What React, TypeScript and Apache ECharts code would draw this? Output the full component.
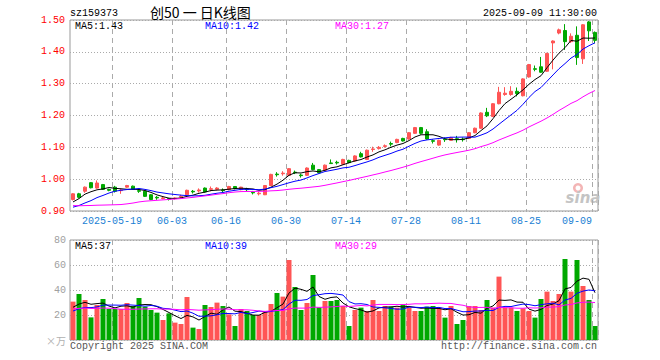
import React, { useEffect, useRef } from "react";
import * as echarts from "echarts";

const dates: string[] = [
  "2025-05-08","2025-05-09","2025-05-12","2025-05-13","2025-05-14","2025-05-15","2025-05-16","2025-05-19","2025-05-20","2025-05-21",
  "2025-05-22","2025-05-23","2025-05-26","2025-05-27","2025-05-28","2025-05-29","2025-05-30","2025-06-03","2025-06-04","2025-06-05",
  "2025-06-06","2025-06-09","2025-06-10","2025-06-11","2025-06-12","2025-06-13","2025-06-16","2025-06-17","2025-06-18","2025-06-19",
  "2025-06-20","2025-06-23","2025-06-24","2025-06-25","2025-06-26","2025-06-27","2025-06-30","2025-07-01","2025-07-02","2025-07-03",
  "2025-07-04","2025-07-07","2025-07-08","2025-07-09","2025-07-10","2025-07-11","2025-07-14","2025-07-15","2025-07-16","2025-07-17",
  "2025-07-18","2025-07-21","2025-07-22","2025-07-23","2025-07-24","2025-07-25","2025-07-28","2025-07-29","2025-07-30","2025-07-31",
  "2025-08-01","2025-08-04","2025-08-05","2025-08-06","2025-08-07","2025-08-08","2025-08-11","2025-08-12","2025-08-13","2025-08-14",
  "2025-08-15","2025-08-18","2025-08-19","2025-08-20","2025-08-21","2025-08-22","2025-08-25","2025-08-26","2025-08-27","2025-08-28",
  "2025-08-29","2025-09-01","2025-09-02","2025-09-03","2025-09-04","2025-09-05","2025-09-08","2025-09-09",
];

const tickDates: string[] = [
  "2025-05-19","2025-06-03","2025-06-16","2025-06-30","2025-07-14","2025-07-28","2025-08-11","2025-08-25","2025-09-09",
];

const opens: number[] = [
  0.936,0.954,0.962,0.989,0.972,0.983,0.968,0.975,0.964,0.975,
  0.978,0.964,0.962,0.951,0.943,0.939,0.939,0.939,0.944,0.951,
  0.962,0.963,0.972,0.968,0.968,0.966,0.967,0.977,0.967,0.969,
  0.959,0.954,0.951,0.980,1.016,1.017,1.012,1.022,1.013,1.012,
  1.044,1.030,1.028,1.051,1.053,1.047,1.059,1.057,1.080,1.062,
  1.093,1.096,1.103,1.112,1.115,1.128,1.126,1.144,1.162,1.149,
  1.121,1.107,1.126,1.122,1.127,1.126,1.128,1.146,1.160,1.210,
  1.197,1.237,1.266,1.266,1.276,1.262,1.321,1.347,1.353,1.339,
  1.428,1.459,1.467,1.432,1.452,1.378,1.494,1.461,
];
const closes: number[] = [
  0.954,0.943,0.975,0.973,0.988,0.968,0.965,0.962,0.966,0.980,
  0.968,0.962,0.946,0.936,0.941,0.941,0.937,0.941,0.946,0.965,
  0.960,0.966,0.960,0.970,0.972,0.964,0.977,0.970,0.975,0.967,
  0.957,0.956,0.980,1.015,1.014,1.019,1.033,1.020,1.011,1.035,
  1.030,1.020,1.044,1.049,1.051,1.062,1.052,1.073,1.070,1.091,
  1.095,1.100,1.105,1.110,1.125,1.120,1.146,1.162,1.144,1.126,
  1.119,1.122,1.124,1.130,1.125,1.124,1.146,1.160,1.208,1.199,
  1.237,1.273,1.270,1.276,1.269,1.315,1.360,1.345,1.336,1.395,
  1.434,1.469,1.432,1.449,1.382,1.485,1.466,1.436,
];
const lows: number[] = [
  0.933,0.940,0.957,0.971,0.970,0.966,0.962,0.958,0.954,0.973,
  0.966,0.957,0.944,0.934,0.935,0.937,0.933,0.936,0.940,0.949,
  0.955,0.958,0.958,0.962,0.965,0.959,0.965,0.968,0.965,0.962,
  0.952,0.949,0.950,0.979,1.008,1.011,1.010,1.016,1.005,1.010,
  1.028,1.018,1.026,1.048,1.046,1.045,1.050,1.055,1.068,1.060,
  1.086,1.093,1.099,1.103,1.113,1.118,1.124,1.142,1.140,1.124,
  1.112,1.105,1.117,1.120,1.115,1.118,1.126,1.144,1.158,1.195,
  1.195,1.235,1.262,1.262,1.260,1.260,1.319,1.339,1.334,1.337,
  1.345,1.455,1.406,1.428,1.359,1.362,1.434,1.427,
];
const highs: number[] = [
  0.956,0.957,0.977,0.991,0.996,0.985,0.970,0.979,0.970,0.982,
  0.980,0.969,0.964,0.953,0.947,0.944,0.941,0.943,0.951,0.967,
  0.966,0.971,0.974,0.977,0.975,0.971,0.979,0.978,0.976,0.973,
  0.963,0.961,0.981,1.017,1.022,1.025,1.035,1.027,1.017,1.037,
  1.051,1.032,1.046,1.062,1.058,1.064,1.061,1.075,1.086,1.093,
  1.102,1.104,1.109,1.118,1.127,1.130,1.148,1.164,1.164,1.157,
  1.125,1.124,1.131,1.133,1.136,1.131,1.148,1.162,1.210,1.224,
  1.239,1.290,1.289,1.292,1.288,1.317,1.362,1.357,1.384,1.397,
  1.436,1.473,1.487,1.458,1.480,1.487,1.497,1.464,
];
// volume, 万手
const volumes: number[] = [
  30.7,36.8,32.0,18.1,28.0,32.8,24.8,24.8,24.8,29.6,
  27.2,33.6,26.7,24.0,21.9,16.0,21.3,13.9,12.8,34.4,
  9.9,8.8,28.0,26.4,29.9,27.2,20.5,11.2,24.8,23.2,
  20.0,20.0,22.7,28.8,37.6,34.7,64.0,42.4,24.0,29.6,
  52.0,26.1,31.2,31.2,32.0,27.2,11.2,24.0,25.9,23.2,
  32.0,23.2,27.2,26.7,25.9,28.8,25.9,23.2,23.2,26.7,
  27.2,25.9,17.9,27.2,12.8,16.0,27.2,27.2,24.0,32.0,
  25.9,50.7,25.9,25.9,23.2,25.3,23.2,17.9,32.8,38.7,
  31.2,36.8,64.8,38.7,64.0,43.2,32.0,11.2,
];
// the 29 sessions before the first shown day (needed for the moving averages)
const priorCloses: number[] = [
  0.962,0.958,0.965,0.960,0.955,0.950,0.948,0.945,0.918,0.888,
  0.858,0.878,0.893,0.898,0.903,0.896,0.900,0.906,0.903,0.908,
  0.890,0.895,0.900,0.893,0.900,0.890,0.905,0.935,0.958,
];
const priorVolumes: number[] = [
  22,24,28,26,24,30,35,38,32,28,26,24,22,21,23,22,20,24,25,18,
  19,21,20,22,19,24,25,26,25.3,
];

const maTexts = { price: ["MA5:1.43", "MA10:1.42", "MA30:1.27"], vol: ["MA5:37", "MA10:39", "MA30:29"] };

const UP = "#ff5555";
const DOWN = "#00a800";
const MONO = "'Liberation Mono', 'DejaVu Sans Mono', monospace";

function movingAverage(prior: number[], vals: number[], n: number): number[] {
  const all = [...prior, ...vals];
  const out: number[] = [];
  for (let i = prior.length; i < all.length; i++) {
    let s = 0;
    for (let k = i - n + 1; k <= i; k++) s += all[k];
    out.push(+(s / n).toFixed(4));
  }
  return out;
}

function txt(text: string, x: number, y: number, fill: string, opts: any = {}) {
  const align = opts.align || "left";
  return {
    type: "text",
    x,
    y,
    silent: true,
    style: {
      text,
      fill,
      fontSize: opts.fontSize || 10,
      fontFamily: opts.fontFamily || MONO,
      fontStyle: opts.fontStyle || "normal",
      fontWeight: opts.fontWeight || "normal",
      align,
      textAlign: align,
      verticalAlign: "middle",
      textVerticalAlign: "middle",
    },
  };
}

export default function App() {
  const ref = useRef<HTMLDivElement>(null);
  useEffect(() => {
    if (!ref.current) return;
    const chart = echarts.init(ref.current, null, { renderer: "svg" });
    const tickSet = new Set(tickDates.map((d) => dates.indexOf(d)));
    const firstTick = dates.indexOf(tickDates[0]);
    const lastIdx = dates.length - 1;
    const ma = (n: number) => movingAverage(priorCloses, closes, n);
    const vma = (n: number) => movingAverage(priorVolumes, volumes, n);
    const splitLine = {
      show: true,
      interval: (i: number) => tickSet.has(i),
      lineStyle: { color: "#aaaaaa", type: [5, 4], width: 1 },
    };
    const lineSeries = (name: string, data: number[], color: string, axis: number) => ({
      name,
      type: "line",
      xAxisIndex: axis,
      yAxisIndex: axis,
      data,
      symbol: "none",
      showSymbol: false,
      smooth: false,
      lineStyle: { color, width: 1 },
      itemStyle: { color },
      z: 5,
    });
    const option: any = {
      animation: false,
      backgroundColor: "#ffffff",
      grid: [
        { left: 70, top: 20, width: 528, height: 191, show: true, borderColor: "#999999", borderWidth: 1 },
        { left: 70, top: 240, width: 528, height: 100, show: true, borderColor: "#999999", borderWidth: 1 },
      ],
      xAxis: [
        {
          type: "category",
          gridIndex: 0,
          data: dates,
          boundaryGap: true,
          axisLine: { show: false },
          axisTick: { show: false },
          axisLabel: {
            interval: 0,
            hideOverlap: false,
            color: "#1a7fd4",
            fontFamily: MONO,
            fontSize: 10,
            margin: 5,
            formatter: (v: string, i: number) => {
              if (!tickSet.has(i)) return "";
              const s = i === firstTick ? v : v.slice(5);
              return i === lastIdx ? `{r|${s}}` : `{n|${s}}`;
            },
            rich: {
              n: { padding: [0, 6, 0, 0], color: "#1a7fd4", fontFamily: MONO, fontSize: 10 },
              r: { padding: [0, 36, 0, 0], color: "#1a7fd4", fontFamily: MONO, fontSize: 10 },
            },
          },
          splitLine,
        },
        {
          type: "category",
          gridIndex: 1,
          data: dates,
          boundaryGap: true,
          axisLine: { show: false },
          axisTick: { show: false },
          axisLabel: { show: false },
          splitLine,
        },
      ],
      yAxis: [
        {
          type: "value",
          gridIndex: 0,
          min: 0.9,
          max: 1.5,
          interval: 0.1,
          axisLine: { show: false },
          axisTick: { show: false },
          axisLabel: {
            color: "#ff0000",
            fontFamily: MONO,
            fontSize: 10,
            margin: 5,
            formatter: (v: number) => v.toFixed(2),
          },
          splitLine: { show: true, lineStyle: { color: "#aaaaaa", type: [1, 2], width: 1 } },
        },
        {
          type: "value",
          gridIndex: 1,
          min: 0,
          max: 80,
          interval: 20,
          axisLine: { show: false },
          axisTick: { show: false },
          axisLabel: {
            color: "#a0a0a0",
            fontFamily: MONO,
            fontSize: 10,
            margin: 4,
            formatter: (v: number) => (v === 0 ? "" : String(v)),
          },
          splitLine: { show: true, lineStyle: { color: "#aaaaaa", type: [1, 2], width: 1 } },
        },
      ],
      series: [
        {
          name: "K",
          type: "candlestick",
          xAxisIndex: 0,
          yAxisIndex: 0,
          barWidth: 4,
          data: opens.map((o, i) => [o, closes[i], lows[i], highs[i]]),
          itemStyle: { color: UP, color0: DOWN, borderColor: UP, borderColor0: DOWN, borderWidth: 1 },
          z: 3,
        },
        lineSeries("MA5", ma(5), "#000000", 0),
        lineSeries("MA10", ma(10), "#0000ff", 0),
        lineSeries("MA30", ma(30), "#ff00ff", 0),
        {
          name: "VOL",
          type: "bar",
          xAxisIndex: 1,
          yAxisIndex: 1,
          barWidth: 5,
          data: volumes.map((v, i) => ({
            value: v,
            itemStyle: { color: closes[i] >= opens[i] ? UP : DOWN },
          })),
          z: 3,
        },
        lineSeries("VMA5", vma(5), "#000000", 1),
        lineSeries("VMA10", vma(10), "#0000ff", 1),
        lineSeries("VMA30", vma(30), "#ff00ff", 1),
      ],
      graphic: [
        txt("sz159373", 70, 13, "#000000"),
        txt("创50 一 日K线图", 150, 12, "#000000", {
          align: "left",
          fontSize: 14,
          fontFamily: "'Noto Sans CJK SC', sans-serif",
        }),
        txt("2025-09-09 11:30:00", 597, 13, "#000000", { align: "right" }),
        txt(maTexts.price[0], 75, 26, "#000000"),
        txt(maTexts.price[1], 205, 26, "#0000ff"),
        txt(maTexts.price[2], 335, 26, "#ff00ff"),
        txt(maTexts.vol[0], 75, 246, "#000000"),
        txt(maTexts.vol[1], 205, 246, "#0000ff"),
        txt(maTexts.vol[2], 335, 246, "#ff00ff"),
        txt("×万", 66, 340, "#b0b0b0", { align: "right", fontSize: 10, fontFamily: "'Noto Sans CJK SC', sans-serif" }),
        txt("Copyright 2025 SINA.COM", 70, 346, "#555555"),
        txt("http://finance.sina.com.cn", 597, 346, "#555555", { align: "right" }),
        {
          type: "ring",
          silent: true,
          shape: { cx: 578, cy: 188, r: 5, r0: 2.5 },
          style: { fill: "#f3b5b5" },
        },
        txt("sina", 583, 198, "#c4c4c4", {
          align: "center",
          fontSize: 15,
          fontStyle: "italic",
          fontWeight: "bold",
          fontFamily: "'DejaVu Sans', sans-serif",
        }),
      ],
    };
    chart.setOption(option);
    return () => chart.dispose();
  }, []);
  return (
    <div
      ref={ref}
      style={{ position: "absolute", left: 0, top: 0, width: 660, height: 360, background: "#fff" }}
    />
  );
}
